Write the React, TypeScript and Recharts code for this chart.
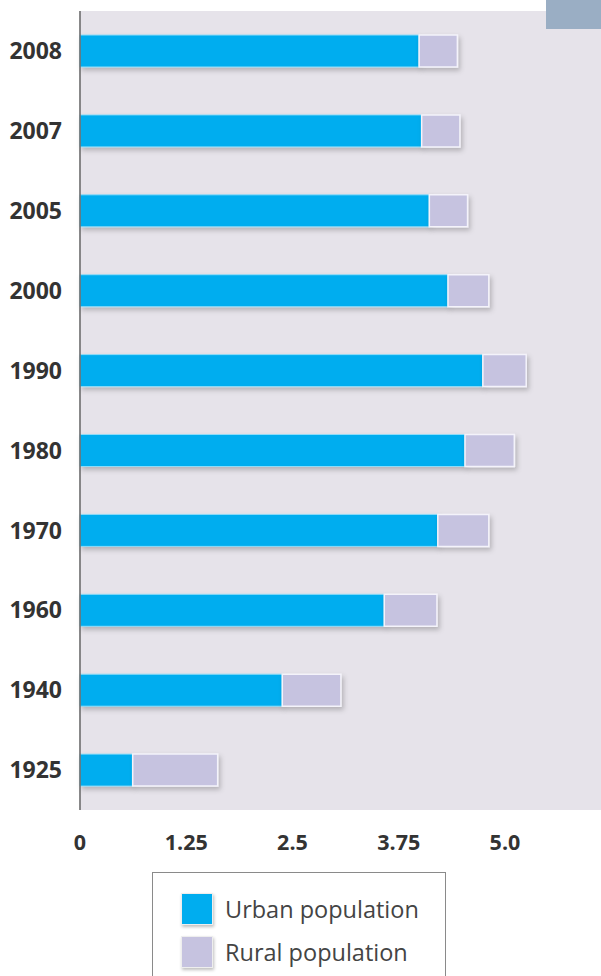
import { Bar, BarChart, CartesianGrid, XAxis, YAxis } from "recharts";

const years = ["2008", "2007", "2005", "2000", "1990", "1980", "1970", "1960", "1940", "1925"];
const urban = [3.99, 4.02, 4.11, 4.33, 4.74, 4.53, 4.21, 3.58, 2.38, 0.62];
const rural = [0.45, 0.45, 0.45, 0.48, 0.51, 0.58, 0.6, 0.62, 0.69, 1.0];
const xTicks = [0, 1.25, 2.5, 3.75, 5];

const data = years.map((year, i) => ({ year, urban: urban[i], rural: rural[i] }));

const font = "'Open Sans', 'DejaVu Sans', sans-serif";
const URBAN = "#00adef";
const RURAL = "#c6c3e0";

function fmtTick(v: number) {
  return v === 5 ? "5.0" : String(v);
}

export default function App() {
  return (
    <div
      style={{
        position: "absolute",
        left: 0,
        top: 0,
        width: 601,
        height: 976,
        background: "#fff",
        overflow: "hidden",
        fontFamily: font,
      }}
    >
      <div
        style={{
          position: "absolute",
          left: 546,
          top: 0,
          width: 55,
          height: 29,
          background: "#9aaec4",
          zIndex: 2,
        }}
      />
      <BarChart
        width={601}
        height={870}
        data={data}
        layout="vertical"
        barSize={32}
        margin={{ top: 11, right: 0, bottom: 0, left: 0 }}
      >
        <defs>
          <filter id="barShadow" x="-10%" y="-30%" width="130%" height="180%">
            <feDropShadow dx="2" dy="3" stdDeviation="2.5" floodColor="#000" floodOpacity="0.22" />
          </filter>
        </defs>
        <rect x={80} y={11} width={521} height={799} fill="#e6e3ea" />
        <CartesianGrid horizontal={false} stroke="#efedf2" strokeWidth={2} />
        <XAxis
          type="number"
          domain={[0, 6.13]}
          ticks={xTicks}
          tickFormatter={fmtTick}
          axisLine={false}
          tickLine={false}
          height={60}
          tickMargin={19}
          tick={{ fill: "#333", fontSize: 21.5, fontWeight: 700, fontFamily: font }}
        />
        <YAxis
          type="category"
          dataKey="year"
          width={80}
          axisLine={{ stroke: "#666", strokeWidth: 1.5 }}
          tickLine={false}
          tickMargin={12}
          tick={{ fill: "#333", fontSize: 23, fontWeight: 700, fontFamily: font }}
        />
        <Bar
          dataKey="urban"
          stackId="a"
          fill={URBAN}
          stroke="#8fdcf8"
          strokeWidth={1}
          filter="url(#barShadow)"
          isAnimationActive={false}
        />
        <Bar
          dataKey="rural"
          stackId="a"
          fill={RURAL}
          stroke="#f4f3fa"
          strokeWidth={1.5}
          filter="url(#barShadow)"
          isAnimationActive={false}
        />
      </BarChart>
      <div
        style={{
          position: "absolute",
          left: 152,
          top: 872,
          width: 294,
          height: 120,
          border: "1.5px solid #8a8a8a",
          boxSizing: "border-box",
          background: "#fff",
        }}
      >
        {[
          { label: "Urban population", color: URBAN, top: 20 },
          { label: "Rural population", color: RURAL, top: 63 },
        ].map((item) => (
          <div
            key={item.label}
            style={{ position: "absolute", left: 28, top: item.top, display: "flex", alignItems: "center" }}
          >
            <div
              style={{
                width: 30,
                height: 30,
                background: item.color,
                border: "1px solid #eee",
                boxShadow: "1px 2px 3px rgba(0,0,0,0.25)",
              }}
            />
            <span style={{ marginLeft: 12, fontSize: 23.5, color: "#444", lineHeight: "30px" }}>{item.label}</span>
          </div>
        ))}
      </div>
    </div>
  );
}
